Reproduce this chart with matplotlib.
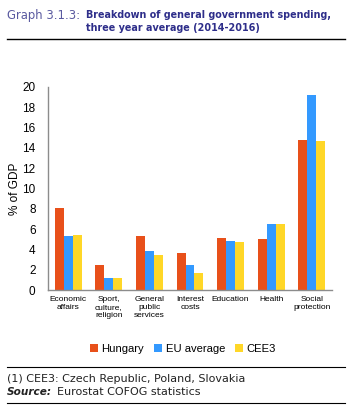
import matplotlib
matplotlib.use("Agg")
import matplotlib.pyplot as plt
import numpy as np

# data (% of GDP)
categories = ["Economic\naffairs", "Sport,\nculture,\nreligion", "General\npublic\nservices",
              "Interest\ncosts", "Education", "Health", "Social\nprotection"]
hungary = [8.1, 2.5, 5.3, 3.6, 5.1, 5.0, 14.8]
eu_average = [5.3, 1.15, 3.8, 2.5, 4.8, 6.5, 19.2]
cee3 = [5.4, 1.15, 3.4, 1.7, 4.7, 6.5, 14.7]
series_names = ["Hungary", "EU average", "CEE3"]
colors = ["#E8501A", "#3399FF", "#FFD728"]

plt.rcParams['font.family'] = ['Liberation Sans', 'DejaVu Sans']

fig = plt.figure(figsize=(3.51, 4.15), dpi=100)
W, H = 351, 415

# header
fig.text(7 / W, 1 - 15 / H, "Graph 3.1.3:", fontsize=8.4, color="#5A5AA0",
         family=['DejaVu Sans'], va="center")
fig.text(86 / W, 1 - 15 / H, "Breakdown of general government spending,", fontsize=6.9,
         color="#2E2E8A", fontweight="bold", family=['DejaVu Sans'], va="center")
fig.text(86 / W, 1 - 28 / H, "three year average (2014-2016)", fontsize=6.9,
         color="#2E2E8A", fontweight="bold", family=['DejaVu Sans'], va="center")
fig.add_artist(plt.Line2D([7 / W, 345 / W], [1 - 39 / H, 1 - 39 / H], color="black", lw=1.0))

ax = fig.add_axes([48 / W, 1 - 290 / H, 284 / W, 203 / H])
x = np.arange(len(categories))
w = 0.22
for i, (vals, name, c) in enumerate(zip([hungary, eu_average, cee3], series_names, colors)):
    ax.bar(x + (i - 1) * w, vals, width=w, color=c, label=name)

ax.set_xlim(-0.5, len(categories) - 0.5)
ax.set_ylim(0, 20)
ax.set_yticks(range(0, 21, 2))
ax.set_xticks(x)
ax.set_xticklabels(categories, fontsize=6, va="top", linespacing=1.2)
ax.tick_params(axis="both", length=0, labelsize=8.5)
ax.tick_params(axis="x", labelsize=6, pad=4)
ax.tick_params(axis="y", pad=9)
for s in ["top", "right"]:
    ax.spines[s].set_visible(False)
for s in ["left", "bottom"]:
    ax.spines[s].set_color("#8C8C8C")
    ax.spines[s].set_linewidth(1.0)
ax.set_ylabel("% of GDP", fontsize=8.5, labelpad=1)

ax.legend(loc="center", bbox_to_anchor=(183 / W, 1 - 349 / H), bbox_transform=fig.transFigure,
          ncol=3, frameon=False, fontsize=8.1, handlelength=0.7, handleheight=0.7,
          handletextpad=0.3, columnspacing=0.9)

# footer
fig.add_artist(plt.Line2D([7 / W, 345 / W], [1 - 367 / H, 1 - 367 / H], color="black", lw=0.8))
fig.text(7 / W, 1 - 379 / H, "(1) CEE3: Czech Republic, Poland, Slovakia", fontsize=8,
         color="#222222", family=['DejaVu Sans'], va="center")
fig.text(7 / W, 1 - 392 / H, "Source:", fontsize=7.6, color="#222222", fontweight="bold",
         fontstyle="italic", family=['DejaVu Sans'], va="center")
fig.text(57 / W, 1 - 392 / H, "Eurostat COFOG statistics", fontsize=8,
         color="#222222", family=['DejaVu Sans'], va="center")
fig.add_artist(plt.Line2D([7 / W, 345 / W], [1 - 403 / H, 1 - 403 / H], color="black", lw=0.8))

fig.savefig("out.png", dpi=100)
